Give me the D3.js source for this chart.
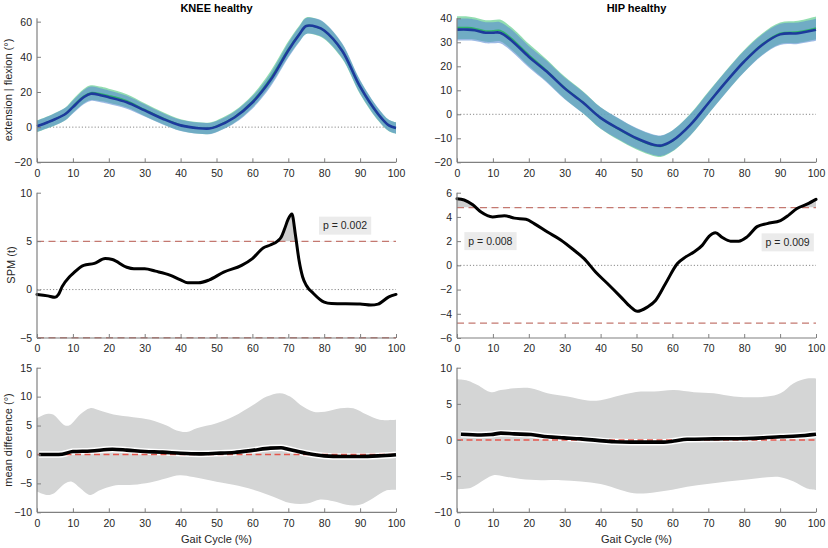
<!DOCTYPE html>
<html>
<head>
<meta charset="utf-8">
<script src="https://cdn.jsdelivr.net/npm/d3@7"></script>
<style>
  html, body { margin: 0; padding: 0; background: #fff; }
  svg { display: block; font-family: "Liberation Sans", Arial, sans-serif; }
</style>
</head>
<body>
<svg id="chart" width="828" height="548"></svg>
<script>
// ---------------- DATA ----------------
const ticksX = [0, 10, 20, 30, 40, 50, 60, 70, 80, 90, 100];

// Knee kinematics (two healthy groups: A = green, B = blue)
const kneeX     = [0,3,5,8,10,13,15,18,20,25,30,35,40,45,48,50,55,60,65,70,73,75,78,80,85,90,95,98,100];
const kneeMeanB = [0.5,2.8,4.5,7.6,11.4,17,19,18,17,14.2,9.5,4.8,1,-0.6,-0.8,0.3,5.5,14,26.6,43.6,52.5,57.5,57,55,43.5,23,7.5,1,-0.5];
const kneeMeanA = [0.5,2.8,4.5,7.7,11.9,17.6,19.6,18.8,17.9,14.95,10,5.2,1.2,-0.5,-0.65,0.5,5.85,14.7,27.7,44.5,53,57.7,56.85,54.75,43.15,22.65,7.25,0.9,-0.55];
const kneeSdA   = [3.3,3.4,3.5,3.6,3.8,4.1,4.2,4.1,4.0,3.8,3.6,3.4,3.3,3.3,3.3,3.3,3.4,3.6,3.9,4.3,4.5,4.7,4.7,4.6,4.3,3.9,3.5,3.3,3.3];
const kneeSdB   = [3.2,3.3,3.4,3.5,3.7,4.0,4.1,4.0,3.9,3.7,3.5,3.3,3.2,3.2,3.2,3.2,3.3,3.5,3.8,4.2,4.4,4.6,4.6,4.5,4.2,3.8,3.4,3.2,3.2];

// Hip kinematics
const hipX     = [0,3,5,8,10,12,15,20,25,30,35,40,45,50,55,57,60,65,70,75,80,85,90,95,100];
const hipMeanB = [35.3,35.3,35,34,34,34,31,24,17.8,10.8,5,-1.5,-6,-10,-12.8,-13,-11,-4.4,4.6,13.6,22,28.9,33.3,33.8,35.2];
const hipMeanA = [36.1,36.1,35.75,34.7,34.75,34.95,31.85,24.75,18.25,11.1,5.15,-1.55,-6.25,-10.3,-13.1,-13.3,-11.15,-4.3,4.75,13.75,22.2,29.2,33.75,34.35,36];
const hipSdA   = [4.7,4.7,4.6,4.5,4.5,4.5,4.6,4.6,4.6,4.6,4.6,4.5,4.5,4.4,4.4,4.4,4.4,4.5,4.6,4.6,4.6,4.5,4.5,4.6,4.7];
const hipSdB   = [4.6,4.6,4.5,4.4,4.4,4.4,4.5,4.5,4.5,4.5,4.5,4.4,4.4,4.3,4.3,4.3,4.3,4.4,4.5,4.5,4.5,4.4,4.4,4.5,4.6];

// SPM{t}
const kneeSpmX = [0,3,5,6,7,9,10,13,16,19,21,25,27,30,33,37,40,42,45,48,52,57,60,63,65,67,68,69,70,71,72,73,74,75,77,80,82,90,93,95,98,100];
const kneeSpm  = [-0.5,-0.65,-0.8,-0.5,0.3,1.3,1.65,2.5,2.7,3.2,3.1,2.3,2.15,2.15,1.9,1.5,1.0,0.7,0.7,1.0,1.8,2.5,3.2,4.3,4.6,5.0,5.4,6.3,7.3,7.8,5.6,3.0,1.3,0.45,-0.4,-1.3,-1.45,-1.5,-1.6,-1.5,-0.75,-0.5];
const kneeThreshold = 4.97;
const kneePLabels = ["p = 0.002"];

const hipSpmX = [0,2,4.4,6.7,9.9,13.2,16,19.2,21.5,25.2,28.9,32.6,35.4,38.6,41.9,45.6,48.4,50.2,53,55.3,58.1,61.4,63.7,66,68.3,70.2,72,73.9,76.2,78.5,80.8,83.6,86.4,90.1,92.4,94.7,97.5,100];
const hipSpm  = [5.5,5.4,5.0,4.4,4.0,4.1,3.9,3.8,3.45,2.75,2.1,1.25,0.55,-0.55,-1.5,-2.6,-3.45,-3.8,-3.45,-2.9,-1.5,0.15,0.7,1.1,1.65,2.4,2.7,2.3,2.0,2.0,2.35,3.2,3.45,3.7,4.15,4.7,5.05,5.45];
const hipThreshold = 4.77;
const hipPLabels = ["p = 0.008", "p = 0.009"];

// Mean difference with confidence band
const kneeDiffX = [0.6,5,7,10,15,21,25,30,35,40,45,50,55,60,65,68,70,75,80,85,90,95,100];
const kneeDiff  = [0,0,0.05,0.5,0.6,0.9,0.75,0.5,0.4,0.2,0.1,0.2,0.35,0.7,1.1,1.15,0.9,0.2,-0.25,-0.35,-0.35,-0.25,-0.05];
const kneeUpX   = [0,2.7,4.5,7.8,9.2,12,14.8,17.5,21.3,26.8,31.5,36.1,38.9,41.7,44.5,50,54.7,60.3,64,67.7,70.5,73.3,77,80.2,84.5,88.1,91.8,95.5,100];
const kneeUp    = [6.3,7.0,6.9,5.0,5.1,6.9,8.0,7.6,6.9,6.45,6.0,5.0,4.15,3.9,4.55,5.4,6.55,8.6,10.0,10.6,10.0,8.6,7.4,7.4,8.0,8.0,6.9,6.0,6.0];
const kneeLoX   = [0,2.7,4.5,7.8,9.7,12,14.8,17.5,21.3,26.8,31.5,36.1,39.8,43.5,50,54.7,60.3,65.8,70.5,75.2,78.9,82.6,86.2,89.9,93.6,97.4,100];
const kneeLo    = [-6.4,-7.0,-6.8,-5.0,-4.7,-5.8,-7.0,-6.2,-5.4,-5.25,-4.85,-4.1,-3.6,-3.9,-4.7,-5.25,-6.1,-7.3,-8.4,-8.5,-7.8,-8.1,-8.7,-8.7,-7.55,-6.2,-6.1];

const hipDiffX = [1.1,6.7,9.5,12.2,15.9,20.6,25.2,29.8,34.5,39.1,43.7,48.4,53,57.6,60.4,64.1,71.5,80.8,85.4,90.1,94.7,100];
const hipDiff  = [0.8,0.7,0.75,0.95,0.85,0.75,0.45,0.3,0.15,-0.05,-0.25,-0.3,-0.3,-0.3,-0.15,0.1,0.15,0.2,0.3,0.45,0.55,0.8];
const hipUpX   = [0,3,5.7,9.5,12.2,15.9,20.6,25.2,30.8,36.4,40,45.6,51.2,54.9,60.4,66,71.5,77.1,80.8,86.4,90.1,93.8,97.5,100];
const hipUp    = [8.4,8.2,7.6,6.6,6.9,7.15,7.15,6.45,6.0,5.45,5.5,6.2,6.7,6.7,6.9,6.6,6.45,6.0,5.9,6.0,6.45,7.85,8.5,8.5];
const hipLoX   = [0,3.9,7.6,10.4,13.2,17.8,23.4,28.9,34.5,40,45.6,49.3,53,58.6,64.1,69.7,75.3,80.8,86.4,90.1,93.8,97.5,100];
const hipLo    = [-6.8,-6.6,-5.5,-4.85,-5.05,-5.4,-5.55,-5.55,-5.75,-6.1,-6.9,-7.35,-7.35,-7.0,-6.45,-6.1,-5.75,-5.45,-5.15,-5.15,-5.75,-6.7,-6.9];

// ---------------- LAYOUT ----------------
const svg = d3.select("#chart");
const cols = [{x0: 37, x1: 396}, {x0: 457, x1: 816}];
const rows = [{t: 18.3, b: 162.3}, {t: 192.7, b: 338}, {t: 367.7, b: 512.3}];
const AX = "#808080", TXT = "#262626";
let clipId = 0;

function zip(xs, ys) { return xs.map((x, i) => [x, ys[i]]); }

function makeAxes(col, row, yDomain) {
  const x = d3.scaleLinear().domain([0, 100]).range([col.x0, col.x1]);
  const y = d3.scaleLinear().domain(yDomain).range([row.b, row.t]);
  return {x, y};
}

function drawAxes(s, col, row, yTicks) {
  const g = svg.append("g");
  const ax = g.append("g").attr("transform", `translate(0,${row.b})`)
    .call(d3.axisBottom(s.x).tickValues(ticksX).tickSizeInner(-4).tickSizeOuter(0).tickPadding(7));
  const ay = g.append("g").attr("transform", `translate(${col.x0},0)`)
    .call(d3.axisLeft(s.y).tickValues(yTicks).tickSizeInner(-4).tickSizeOuter(0).tickPadding(5));
  [ax, ay].forEach(a => {
    a.select(".domain").attr("stroke", AX).attr("stroke-width", 1.2);
    a.selectAll(".tick line").attr("stroke", AX);
    a.selectAll(".tick text").attr("fill", TXT).attr("font-size", 10.5)
      .attr("font-family", "Liberation Sans, Arial, sans-serif");
  });
  ay.select(".domain").attr("d", `M0,${row.t}V${row.b}`);
  ax.select(".domain").attr("d", `M${col.x0},0H${col.x1}`);
}

function hline(s, v, col, style) {
  svg.append("line")
    .attr("x1", col.x0).attr("x2", col.x1)
    .attr("y1", s.y(v)).attr("y2", s.y(v))
    .attr("stroke", style.color).attr("stroke-width", style.width)
    .attr("stroke-dasharray", style.dash);
}

const dotted = {color: "#8a8a8a", width: 1, dash: "1.2,2"};

// ---------- Kinematics panels ----------
function kinematics(col, row, yDomain, yTicks, xs, mA, sA, mB, sB) {
  const s = makeAxes(col, row, yDomain);
  hline(s, 0, col, dotted);
  const area = (m, sd) => d3.area().curve(d3.curveCatmullRom.alpha(0.5))
    .x((d, i) => s.x(xs[i])).y0((d, i) => s.y(m[i] - sd[i])).y1((d, i) => s.y(m[i] + sd[i]));
  svg.append("path").datum(xs).attr("d", area(mA, sA)).attr("fill", "rgb(110,210,150)").attr("fill-opacity", 0.75);
  svg.append("path").datum(xs).attr("d", area(mB, sB)).attr("fill", "rgb(90,140,210)").attr("fill-opacity", 0.6);
  const line = d3.line().curve(d3.curveCatmullRom.alpha(0.5)).x(d => s.x(d[0])).y(d => s.y(d[1]));
  svg.append("path").datum(zip(xs, mA)).attr("d", line).attr("fill", "none").attr("stroke", "#2fb36a").attr("stroke-width", 1.6);
  svg.append("path").datum(zip(xs, mB)).attr("d", line).attr("fill", "none").attr("stroke", "#1d3a9c").attr("stroke-width", 2.6);
  drawAxes(s, col, row, yTicks);
  return s;
}

// ---------- SPM panels ----------
function spm(col, row, yDomain, yTicks, xs, ts, thr, labels, labelPos) {
  const s = makeAxes(col, row, yDomain);
  hline(s, 0, col, dotted);
  const pts = zip(xs, ts);
  const id = "clip" + (clipId++);
  svg.append("clipPath").attr("id", id).append("rect")
    .attr("x", col.x0).attr("y", row.t - 20).attr("width", col.x1 - col.x0).attr("height", s.y(thr) - row.t + 20);
  const area = d3.area().curve(d3.curveMonotoneX).x(d => s.x(d[0])).y0(s.y(thr)).y1(d => s.y(d[1]));
  svg.append("path").datum(pts).attr("d", area).attr("fill", "#cfcfcf").attr("clip-path", `url(#${id})`);
  const dash = {color: "rgb(196,120,112)", width: 1.4, dash: "7,4.5"};
  hline(s, thr, col, dash);
  hline(s, -thr, col, dash);
  const line = d3.line().curve(d3.curveMonotoneX).x(d => s.x(d[0])).y(d => s.y(d[1]));
  svg.append("path").datum(pts).attr("d", line).attr("fill", "none").attr("stroke", "#000")
    .attr("stroke-width", 3).attr("stroke-linejoin", "round").attr("stroke-linecap", "round");
  labels.forEach((txt, i) => {
    const [lx, ly] = labelPos[i];
    const g = svg.append("g").attr("transform", `translate(${s.x(lx)},${s.y(ly)})`);
    const t = g.append("text").text(txt).attr("text-anchor", "middle").attr("dy", "0.36em")
      .attr("font-size", 10.5).attr("fill", TXT);
    const bb = t.node().getBBox();
    g.insert("rect", "text").attr("x", bb.x - 4).attr("y", -9).attr("width", bb.width + 8).attr("height", 18)
      .attr("fill", "#ebebeb");
  });
  drawAxes(s, col, row, yTicks);
  return s;
}

// ---------- Mean difference panels ----------
function meanDiff(col, row, yDomain, yTicks, upX, up, loX, lo, dX, d) {
  const s = makeAxes(col, row, yDomain);
  const line = d3.line().curve(d3.curveCatmullRom.alpha(0.5)).x(p => s.x(p[0])).y(p => s.y(p[1]));
  const upper = line(zip(upX, up));
  const lower = line(zip(loX, lo).reverse());
  svg.append("path").attr("d", upper + "L" + lower.slice(1) + "Z").attr("fill", "#d4d5d5");
  const dl = d3.line().curve(d3.curveMonotoneX).x(p => s.x(p[0])).y(p => s.y(p[1]));
  svg.append("path").datum(zip(dX, d)).attr("d", dl).attr("fill", "none").attr("stroke", "#fff").attr("stroke-width", 6.5);
  hline(s, 0, col, {color: "rgb(228,86,76)", width: 1.5, dash: "6,3.5"});
  svg.append("path").datum(zip(dX, d)).attr("d", dl).attr("fill", "none").attr("stroke", "#000")
    .attr("stroke-width", 3.6).attr("stroke-linecap", "butt");
  drawAxes(s, col, row, yTicks);
  return s;
}

kinematics(cols[0], rows[0], [-20, 61.9], [-20, 0, 20, 40, 60], kneeX, kneeMeanA, kneeSdA, kneeMeanB, kneeSdB);
kinematics(cols[1], rows[0], [-20, 40], [-20, -10, 0, 10, 20, 30, 40], hipX, hipMeanA, hipSdA, hipMeanB, hipSdB);

spm(cols[0], rows[1], [-5, 10], [-5, 0, 5, 10], kneeSpmX, kneeSpm, kneeThreshold, kneePLabels, [[85.8, 6.6]]);
spm(cols[1], rows[1], [-6, 6], [-6, -4, -2, 0, 2, 4, 6], hipSpmX, hipSpm, hipThreshold, hipPLabels, [[9.3, 2.0], [92.1, 1.9]]);

meanDiff(cols[0], rows[2], [-10, 15], [-10, -5, 0, 5, 10, 15], kneeUpX, kneeUp, kneeLoX, kneeLo, kneeDiffX, kneeDiff);
meanDiff(cols[1], rows[2], [-10, 10], [-10, -5, 0, 5, 10], hipUpX, hipUp, hipLoX, hipLo, hipDiffX, hipDiff);

// ---------- Titles & labels ----------
svg.append("text").text("KNEE healthy").attr("x", 216.5).attr("y", 12).attr("text-anchor", "middle")
  .attr("font-size", 11).attr("font-weight", "bold").attr("fill", "#000");
svg.append("text").text("HIP healthy").attr("x", 636.5).attr("y", 12).attr("text-anchor", "middle")
  .attr("font-size", 11).attr("font-weight", "bold").attr("fill", "#000");

function ylabel(txt, cx, cy) {
  svg.append("text").text(txt).attr("transform", `translate(${cx},${cy}) rotate(-90)`)
    .attr("text-anchor", "middle").attr("font-size", 11).attr("fill", TXT);
}
ylabel("extension | flexion (°)", 12, 90);
ylabel("SPM (t)", 15, 265);
ylabel("mean difference (°)", 12, 440);

[cols[0], cols[1]].forEach(c => {
  svg.append("text").text("Gait Cycle (%)").attr("x", (c.x0 + c.x1) / 2).attr("y", 543)
    .attr("text-anchor", "middle").attr("font-size", 11).attr("fill", TXT);
});
</script>
</body>
</html>
